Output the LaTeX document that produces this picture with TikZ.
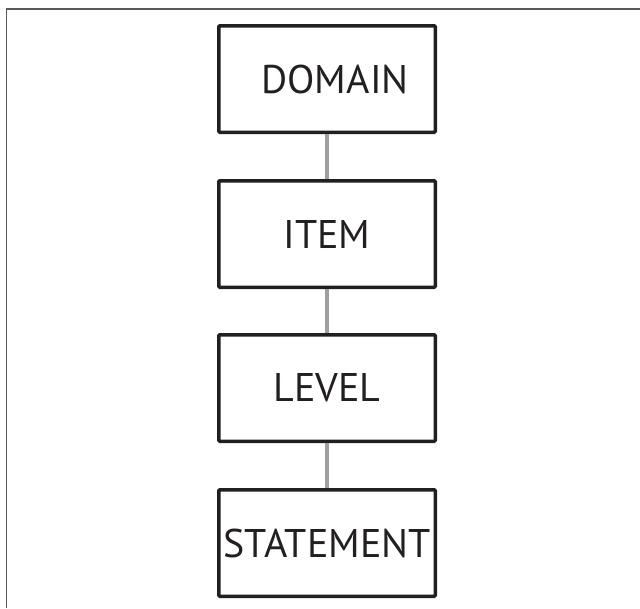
\documentclass[tikz,border=0pt]{standalone}
\usepackage{fontspec}
\setmainfont{PT Sans}
\definecolor{color_frame}{HTML}{58595B}
\definecolor{color_box_line}{HTML}{231F20}
\definecolor{color_box_text}{HTML}{231F20}
\definecolor{color_link}{HTML}{9D9FA2}
\def\boxlinewidth{3.5pt}
\def\linklinewidth{4pt}
\def\boxwidth{216.5pt}
\def\boxheight{106.5pt}
\def\boxfontsize{\fontsize{40}{44}\selectfont}

\begin{document}
\begin{tikzpicture}[x=1pt,y=-1pt,
        levelbox/.style={draw=color_box_line, line width=\boxlinewidth, rounded corners=1pt,
            minimum width=\boxwidth, minimum height=\boxheight, inner sep=0pt,
            text=color_box_text, font=\boxfontsize},
        link/.style={color_link, line width=\linklinewidth}]
        \useasboundingbox (0,0) rectangle (640,608);
        % frame
        \draw[color_frame, line width=1.5pt] (6.5,608) -- (6.5,9) -- (640,9);
        % levels
        \node[levelbox] (domain) at (327,79) {\hspace*{16pt}DOMAIN};
        \node[levelbox] (item) at (327,234) {ITEM};
        \node[levelbox] (level) at (327,388) {LEVEL};
        \node[levelbox] (statement) at (327,543) {STATEMENT};
        % links
        \draw[link] (domain) -- (item);
        \draw[link] (item) -- (level);
        \draw[link] (level) -- (statement);
    \end{tikzpicture}
\end{document}
